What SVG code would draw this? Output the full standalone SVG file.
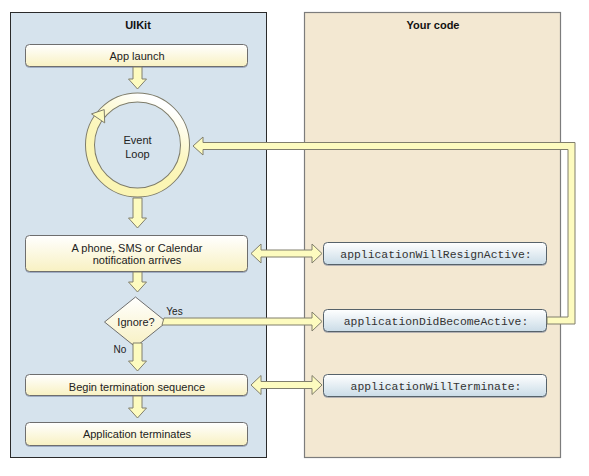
<svg xmlns="http://www.w3.org/2000/svg" width="589" height="476" viewBox="0 0 589 476">
<defs>
<linearGradient id="gY" x1="0" y1="0" x2="0" y2="1">
<stop offset="0" stop-color="#ffffff"/><stop offset="1" stop-color="#f8f1c2"/>
</linearGradient>
<linearGradient id="gB" x1="0" y1="0" x2="0" y2="1">
<stop offset="0" stop-color="#ffffff"/><stop offset="1" stop-color="#cadce7"/>
</linearGradient>
<linearGradient id="gRing" x1="0.6" y1="0" x2="0.3" y2="0.6">
<stop offset="0" stop-color="#ffffff"/><stop offset="0.6" stop-color="#fcf7c2"/><stop offset="1" stop-color="#fbf5b4"/>
</linearGradient>
<filter id="sh" x="-5%" y="-20%" width="110%" height="150%">
<feDropShadow dx="0" dy="1" stdDeviation="0.7" flood-color="#3a4a7a" flood-opacity="0.35"/>
</filter>
</defs>
<style>
.title{font-family:"Liberation Sans",Arial,sans-serif;font-size:11px;font-weight:bold;fill:#111;text-anchor:middle}
.t{font-family:"Liberation Sans",Arial,sans-serif;font-size:11px;fill:#222;text-anchor:middle}
.s{font-family:"Liberation Sans",Arial,sans-serif;font-size:10px;fill:#222;text-anchor:middle}
.m{font-family:"Liberation Mono","DejaVu Sans Mono",monospace;font-size:11.4px;fill:#333;text-anchor:middle}
.yb{fill:url(#gY);stroke:#6e6e6e;stroke-width:1;filter:url(#sh)}
.bb{fill:url(#gB);stroke:#56626b;stroke-width:1;filter:url(#sh)}
.ar{fill:#fdfbbf;stroke:#807e6c;stroke-width:1;stroke-linejoin:miter}
</style>
<rect width="589" height="476" fill="#ffffff"/>
<g id="panel-uikit">
<rect x="10.5" y="12.5" width="256" height="445" fill="#d6e3ed" stroke="#2a2a2a" stroke-width="1"/>
<text class="title" x="138" y="29">UIKit</text>
</g>
<g id="panel-yourcode">
<rect x="304.5" y="12.5" width="256" height="445" fill="#f3e8d2" stroke="#7c7c7c" stroke-width="1.2"/>
<text class="title" x="433" y="29">Your code</text>
</g>
<g id="app-launch">
<rect class="yb" x="25.5" y="44.5" width="222" height="22" rx="4"/>
<text class="t" x="137" y="59.5">App launch</text>
</g>
<g id="event-loop">
<circle cx="137.5" cy="145" r="47.5" fill="none" stroke="#7e7c6a" stroke-width="10"/>
<circle cx="137.5" cy="145" r="47.5" fill="none" stroke="url(#gRing)" stroke-width="8"/>
<polygon class="ar" points="91.5,113.9 104.7,122.9 104.2,109.6"/>
<text class="t" x="137.5" y="144">Event</text>
<text class="t" x="137.5" y="158">Loop</text>
</g>
<g id="notification">
<rect class="yb" x="25.5" y="235.5" width="222" height="36" rx="4"/>
<text class="t" x="137" y="252">A phone, SMS or Calendar</text>
<text class="t" x="137" y="264">notification arrives</text>
</g>
<g id="ignore">
<polygon points="135.5,297 166.5,322 135.5,347 104.5,322" fill="url(#gY)" stroke="#6e6e6e" stroke-width="1"/>
<text class="t" x="136" y="326">Ignore?</text>
</g>
<g id="begin-termination">
<rect class="yb" x="25.5" y="374.5" width="222" height="21" rx="4"/>
<text class="t" x="137" y="391">Begin termination sequence</text>
</g>
<g id="app-terminates">
<rect class="yb" x="25.5" y="422.5" width="222" height="23" rx="4"/>
<text class="t" x="137" y="438">Application terminates</text>
</g>
<g id="will-resign">
<rect class="bb" x="323.5" y="242.5" width="223" height="22" rx="4"/>
<text class="m" x="436" y="258">applicationWillResignActive:</text>
</g>
<g id="did-become">
<rect class="bb" x="323.5" y="309.5" width="223" height="22" rx="4"/>
<text class="m" x="436" y="324.5">applicationDidBecomeActive:</text>
</g>
<g id="will-terminate">
<rect class="bb" x="323.5" y="374.5" width="223" height="22" rx="4"/>
<text class="m" x="436" y="389.5">applicationWillTerminate:</text>
</g>
<g id="connectors">
<polygon class="ar" points="133,67 142,67 142,79 146.5,79 137.5,89 128.5,79 133,79"/>
<polygon class="ar" points="133,198 142,198 142,218 146.5,218 137.5,228 128.5,218 133,218"/>
<polygon class="ar" points="133,272 142,272 142,282 146.5,282 137.5,292 128.5,282 133,282"/>
<polygon class="ar" points="133,343 142,343 142,361 146.5,361 137.5,371 128.5,361 133,361"/>
<polygon class="ar" points="133,396 142,396 142,408 146.5,408 137.5,418 128.5,408 133,408"/>
<polygon class="ar" points="251,253.5 261,244 261,250 312,250 312,244 322,253.5 312,263 312,257 261,257 261,263"/>
<polygon class="ar" points="251,385 261,375.5 261,381.5 312,381.5 312,375.5 322,385 312,394.5 312,388.5 261,388.5 261,394.5"/>
<polygon class="ar" points="164,318 312,318 312,312 322,321.5 312,331 312,325 162,325"/>
<polygon class="ar" points="547,317 568,317 568,149.5 203,149.5 203,155 193,146 203,137 203,142.5 575,142.5 575,324 547,324"/>
<text class="s" x="174.5" y="315">Yes</text>
<text class="s" x="120" y="353">No</text>
</g>
</svg>
